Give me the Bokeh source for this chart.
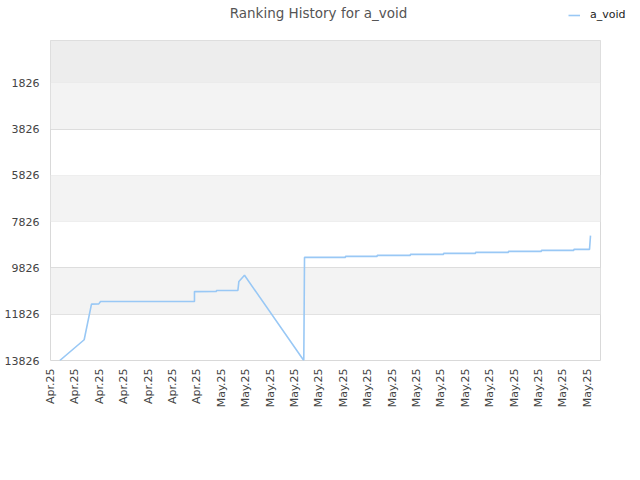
from bokeh.plotting import figure
from bokeh.layouts import column
from bokeh.models import Range1d, FixedTicker, BoxAnnotation, Legend, LegendItem, Label
from bokeh.embed import file_html
from bokeh.resources import INLINE
import math

title_text = "Ranking History for a_void"
series_name = "a_void"

tick_labels = ["Apr.25"] * 7 + ["May.25"] * 16
y_ticks = [1826, 3826, 5826, 7826, 9826, 11826, 13826]

# x in category-index units (fractional), rank values
xs = [0.38, 1.38, 1.68, 1.98, 2.05, 5.90, 5.90, 6.80, 6.80, 7.68, 7.72, 7.95,
      10.38, 10.41, 12.09, 12.09, 13.39, 13.39, 14.75, 14.75, 16.11, 16.11,
      17.42, 17.42, 18.77, 18.77, 20.12, 20.12, 21.45, 21.45, 22.09, 22.13]
ranks = [13826, 12930, 11390, 11380, 11280, 11280, 10850, 10845, 10800, 10800, 10410, 10145,
         13826, 9370, 9370, 9325, 9325, 9282, 9282, 9239, 9239, 9196,
         9196, 9153, 9153, 9110, 9110, 9067, 9067, 9024, 9024, 8430]

font = "DejaVu Sans"
text_color = "#444444"
line_color = "#99c8f5"
W = 632

# ---- header strip: title and legend ----
head = figure(width=W, height=40, output_backend="svg", toolbar_location=None,
              x_range=Range1d(0, W), y_range=Range1d(40, 0),
              x_axis_type=None, y_axis_type=None,
              min_border_left=0, min_border_right=0, min_border_top=0, min_border_bottom=0)
head.title.visible = False
head.outline_line_color = None
head.grid.visible = False
head.background_fill_color = "white"
head.border_fill_color = "white"
head.add_layout(Label(x=318, y=12, text=title_text, text_align="center",
                      text_baseline="middle", text_font=font, text_font_size="13.5px",
                      text_color="#555555"))
# key-only renderer (no visible data) so the legend can show the series' line style
key_r = head.line(x=[float("nan")], y=[float("nan")], line_color=line_color, line_width=1.6)
head_legend = Legend(items=[LegendItem(label=series_name, renderers=[key_r])],
                     location=(568, 19), border_line_alpha=0, background_fill_alpha=0,
                     padding=0, margin=0, glyph_width=12, glyph_height=12, spacing=0,
                     label_text_font=font, label_text_font_size="11px",
                     label_text_color="#222222", label_standoff=10)
head.add_layout(head_legend, "center")

# ---- main chart ----
p = figure(width=W, height=424, output_backend="svg", toolbar_location=None,
           x_range=Range1d(0, 22.54), y_range=Range1d(13826, 0),
           min_border_left=50, min_border_right=W - 600, min_border_top=0, min_border_bottom=104)
p.title.visible = False
p.background_fill_color = "white"
p.border_fill_color = "white"
p.outline_line_color = "#d9d9d9"

for fig in (head, p):
    if "frame_align" in fig.properties():
        fig.frame_align = False

# bands
bounds = [0] + y_ticks
for i in range(len(bounds) - 1):
    if i == 0:
        col = "#ededed"
    elif i % 2 == 1:
        col = "#f3f3f3"
    else:
        col = None
    if col:
        p.add_layout(BoxAnnotation(bottom=bounds[i], top=bounds[i + 1], fill_color=col,
                                   fill_alpha=1, line_alpha=0, level="underlay"))

p.xgrid.visible = False
p.ygrid.ticker = FixedTicker(ticks=y_ticks)
p.ygrid.grid_line_color = "#dddddd"
p.ygrid.level = "underlay"

p.yaxis.ticker = FixedTicker(ticks=y_ticks)
p.yaxis.axis_line_color = None
p.yaxis.major_tick_line_color = None
p.yaxis.minor_tick_line_color = None
p.yaxis.major_tick_out = 0
p.yaxis.major_tick_in = 0
p.yaxis.minor_tick_out = 0
p.yaxis.major_label_text_font = font
p.yaxis.major_label_text_font_size = "11px"
p.yaxis.major_label_text_color = text_color
p.yaxis.major_label_standoff = 11

p.xaxis.ticker = FixedTicker(ticks=list(range(len(tick_labels))))
p.xaxis.major_label_overrides = {i: t for i, t in enumerate(tick_labels)}
p.xaxis.major_label_orientation = math.pi / 2
p.xaxis.axis_line_color = None
p.xaxis.major_tick_line_color = None
p.xaxis.minor_tick_line_color = None
p.xaxis.major_tick_out = 0
p.xaxis.major_tick_in = 0
p.xaxis.minor_tick_out = 0
p.xaxis.major_label_text_font = font
p.xaxis.major_label_text_font_size = "11px"
p.xaxis.major_label_text_color = text_color
p.xaxis.major_label_standoff = 8

p.line(xs, ranks, line_color=line_color, line_width=1.6)

layout = column(head, p, spacing=0)
open("out.html", "w").write(file_html(layout, INLINE))
